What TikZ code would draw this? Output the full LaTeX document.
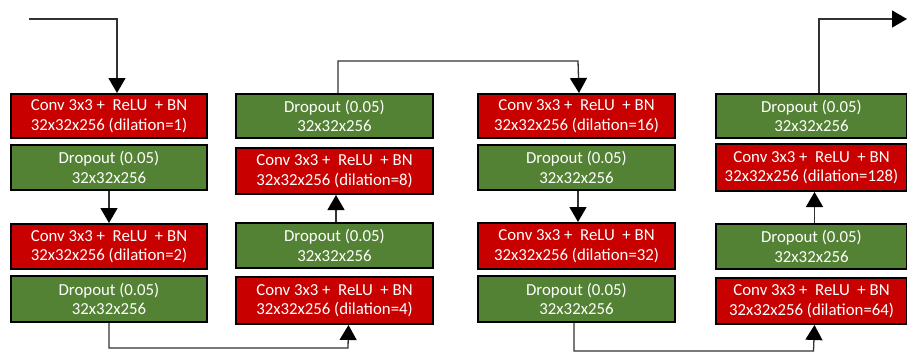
\documentclass[tikz,border=0pt]{standalone}
\usepackage{fontspec}
\setmainfont{Carlito}
\usetikzlibrary{arrows.meta}
\definecolor{boxred}{RGB}{200,0,0}
\definecolor{boxgreen}{RGB}{84,130,53}
\definecolor{linegray}{RGB}{50,50,50}
\tikzset{
  blk/.style={draw=black, line width=2pt, anchor=north west, inner sep=0pt,
    text=white, align=center, font=\fontsize{16.8}{19.5}\selectfont},
  redbox/.style={blk, fill=boxred, draw=black},
  greenbox/.style={blk, fill=boxgreen, draw=black},
  conn/.style={draw=linegray, line width=1.3pt, -{Triangle[width=17pt,length=15pt,fill=black,color=black]}},
}
\newcommand{\convtxt}[1]{Conv 3x3 +~ ReLU~ + BN\\32x32x256 (dilation=#1)}
\newcommand{\droptxt}{Dropout (0.05)\\32x32x256}
\begin{document}
\begin{tikzpicture}[x=1pt,y=-1pt]
\useasboundingbox (0,0) rectangle (907,354);
% column 1
\node[redbox, minimum width=196pt, minimum height=44pt] (c1a) at (10,93) {\convtxt{1}};
\node[greenbox, minimum width=196pt, minimum height=45pt] (c1b) at (10,144) {\droptxt};
\node[redbox, minimum width=196pt, minimum height=45pt] (c1c) at (10,223) {\convtxt{2}};
\node[greenbox, minimum width=196pt, minimum height=46pt] (c1d) at (10,275) {\droptxt};
% column 2
\node[greenbox, minimum width=197pt, minimum height=44pt] (c2a) at (235,93) {\droptxt};
\node[redbox, minimum width=197pt, minimum height=46pt] (c2b) at (235,147) {\convtxt{8}};
\node[greenbox, minimum width=197pt, minimum height=45pt] (c2c) at (235,222) {\droptxt};
\node[redbox, minimum width=197pt, minimum height=47pt] (c2d) at (235,276) {\convtxt{4}};
% column 3
\node[redbox, minimum width=197pt, minimum height=44pt] (c3a) at (477,93) {\convtxt{16}};
\node[greenbox, minimum width=197pt, minimum height=45pt] (c3b) at (477,144) {\droptxt};
\node[redbox, minimum width=197pt, minimum height=46pt] (c3c) at (477,222) {\convtxt{32}};
\node[greenbox, minimum width=197pt, minimum height=46pt] (c3d) at (477,275) {\droptxt};
% column 4
\node[greenbox, minimum width=191pt, minimum height=44pt] (c4a) at (715,93) {\droptxt};
\node[redbox, minimum width=191pt, minimum height=47pt] (c4b) at (715,143) {\convtxt{128}};
\node[greenbox, minimum width=191pt, minimum height=45pt] (c4c) at (715,223) {\droptxt};
\node[redbox, minimum width=191pt, minimum height=46pt] (c4d) at (715,277) {\convtxt{64}};
% connectors
\coordinate (in) at (29,19);
\coordinate (out) at (907,19);
\draw[conn] (in) -| ([xshift=8pt]c1a.north);
\draw[conn] (c1b.south) -- (c1c.north);
\draw[conn] (c1d.south) |- (348,348) -- ([xshift=14pt]c2d.south);
\draw[conn] ([xshift=1.5pt]c2c.north) -- ([xshift=1.5pt]c2b.south);
\draw[conn] ([xshift=3.5pt]c2a.north) |- (578,61) -- ([xshift=2.5pt]c3a.north);
\draw[conn] ([xshift=1.5pt]c3b.south) -- ([xshift=1.5pt]c3c.north);
\draw[conn] ([xshift=-2.5pt]c3d.south) |- (813.5,351) -- ([xshift=3pt]c4d.south);
\draw[conn] ([xshift=3pt]c4c.north) -- ([xshift=3pt]c4b.south);
\draw[conn] ([xshift=7.5pt]c4a.north) |- (out);
\end{tikzpicture}
\end{document}
